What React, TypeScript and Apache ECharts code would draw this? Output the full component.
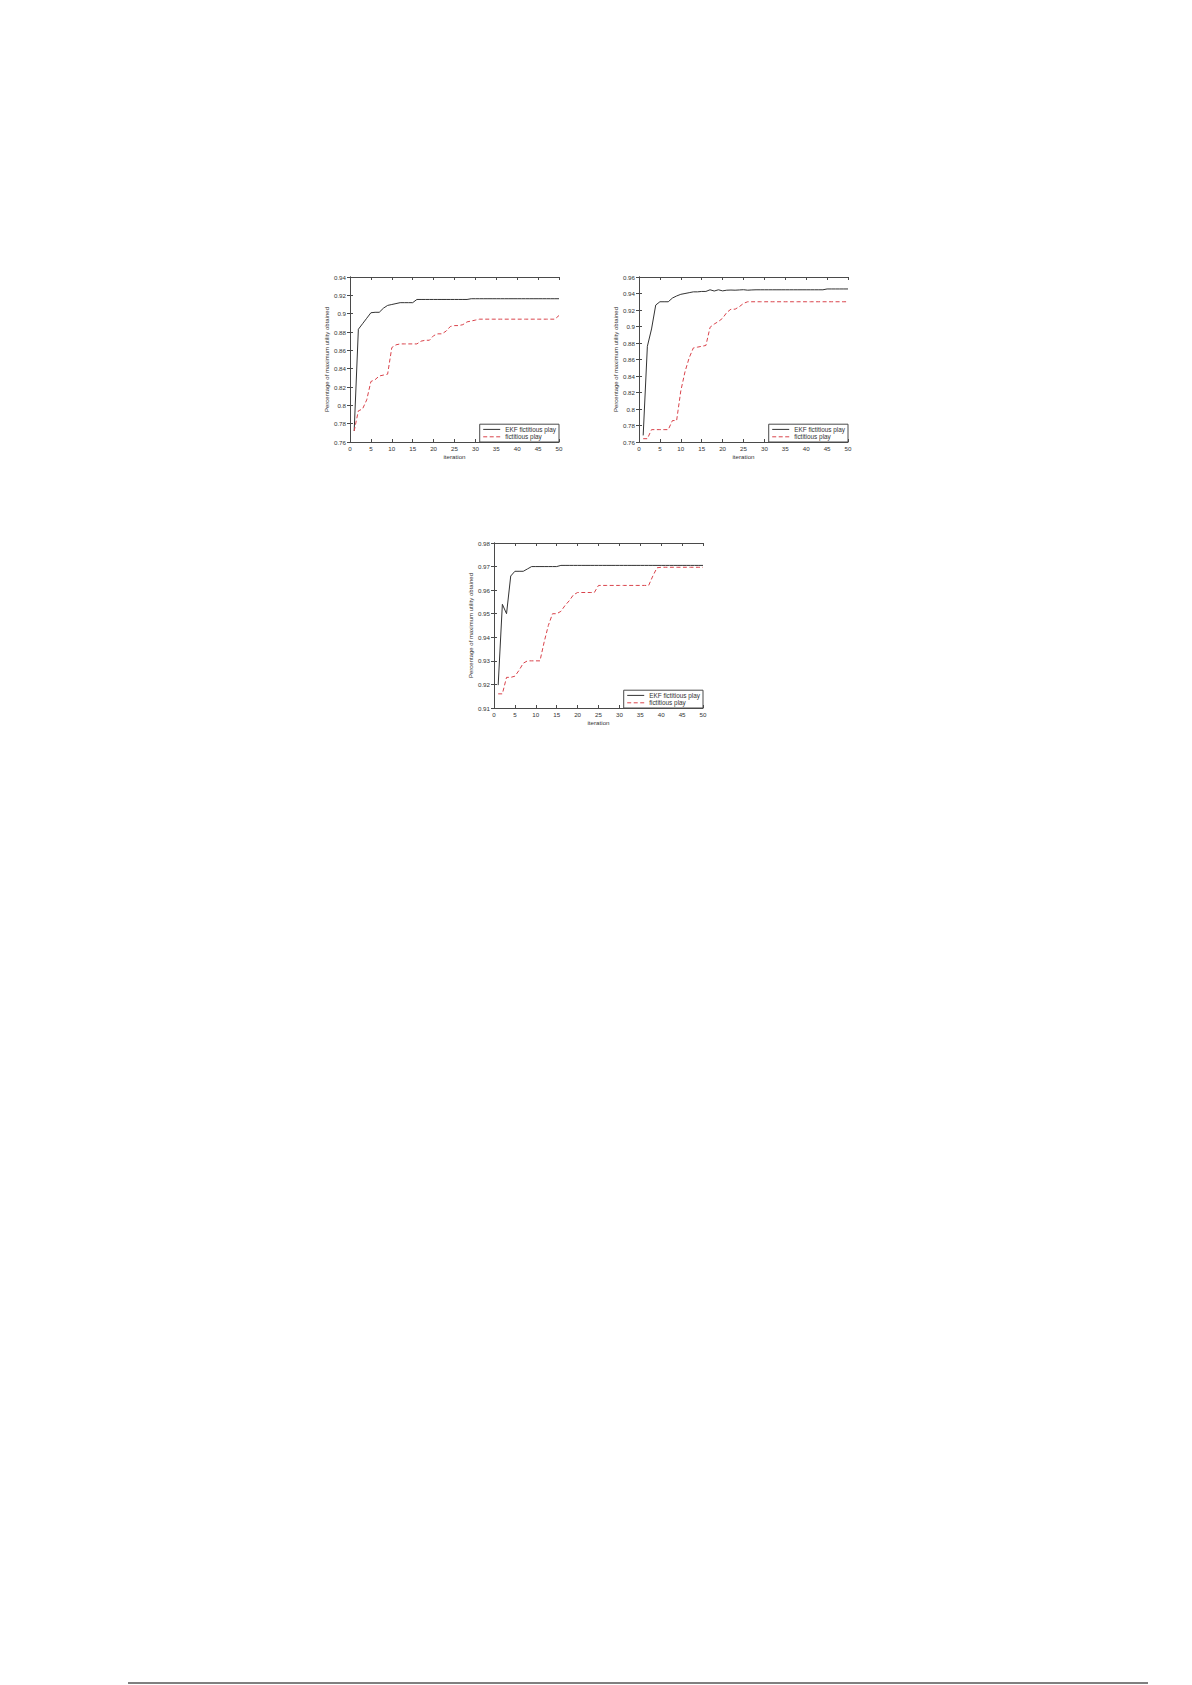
import { useEffect, useRef } from 'react';
import * as echarts from 'echarts';

// iteration numbers shared by every curve
const ITERATIONS = [
  1, 2, 3, 4, 5, 6, 7, 8, 9, 10, 11, 12, 13, 14, 15, 16, 17, 18, 19, 20, 21, 22, 23, 24, 25,
  26, 27, 28, 29, 30, 31, 32, 33, 34, 35, 36, 37, 38, 39, 40, 41, 42, 43, 44, 45, 46, 47, 48, 49, 50
];

const SERIES_NAMES = ['EKF fictitious play', 'fictitious play'];
const X_TICKS = [0, 50, 5];

// top left panel
const EKF_A = [
  0.772, 0.883, 0.889, 0.895, 0.901, 0.9015, 0.9015, 0.906, 0.909, 0.910,
  0.911, 0.912, 0.912, 0.912, 0.912, 0.9155, 0.9155, 0.9155, 0.9155, 0.9155,
  0.9155, 0.9155, 0.9155, 0.9155, 0.9155, 0.9155, 0.9155, 0.9155, 0.9163, 0.9163,
  0.9163, 0.9163, 0.9163, 0.9163, 0.9163, 0.9163, 0.9163, 0.9163, 0.9163, 0.9163,
  0.9163, 0.9163, 0.9163, 0.9163, 0.9163, 0.9163, 0.9163, 0.9163, 0.9163, 0.9163
];
const FP_A = [
  0.772, 0.794, 0.796, 0.806, 0.826, 0.828, 0.832, 0.833, 0.834, 0.863,
  0.866, 0.867, 0.867, 0.867, 0.867, 0.867, 0.870, 0.871, 0.871, 0.876,
  0.878, 0.878, 0.881, 0.886, 0.887, 0.887, 0.888, 0.891, 0.892, 0.893,
  0.894, 0.894, 0.894, 0.894, 0.894, 0.894, 0.894, 0.894, 0.894, 0.894,
  0.894, 0.894, 0.894, 0.894, 0.894, 0.894, 0.894, 0.894, 0.894, 0.898
];
const Y_TICKS_A = [0.76, 0.94, 0.02];

// top right panel
const EKF_B = [
  0.768, 0.876, 0.897, 0.926, 0.930, 0.930, 0.930, 0.9345, 0.937, 0.939,
  0.940, 0.941, 0.942, 0.942, 0.9425, 0.9425, 0.9445, 0.9430, 0.9445, 0.9432,
  0.9440, 0.9442, 0.9440, 0.9443, 0.9446, 0.9440, 0.9443, 0.9445, 0.9445, 0.9445,
  0.9445, 0.9445, 0.9445, 0.9445, 0.9445, 0.9445, 0.9445, 0.9445, 0.9445, 0.9445,
  0.9445, 0.9445, 0.9445, 0.9445, 0.9455, 0.9455, 0.9455, 0.9455, 0.9455, 0.9455
];
const FP_B = [
  0.764, 0.764, 0.775, 0.775, 0.775, 0.775, 0.775, 0.786, 0.786, 0.822,
  0.845, 0.862, 0.874, 0.875, 0.876, 0.877, 0.899, 0.903, 0.906, 0.910,
  0.917, 0.921, 0.921, 0.924, 0.928, 0.930, 0.930, 0.930, 0.930, 0.930,
  0.930, 0.930, 0.930, 0.930, 0.930, 0.930, 0.930, 0.930, 0.930, 0.930,
  0.930, 0.930, 0.930, 0.930, 0.930, 0.930, 0.930, 0.930, 0.930, 0.930
];
const Y_TICKS_B = [0.76, 0.96, 0.02];

// bottom panel
const EKF_C = [
  0.9197, 0.954, 0.950, 0.966, 0.968, 0.968, 0.968, 0.969, 0.970, 0.970,
  0.970, 0.970, 0.970, 0.970, 0.970, 0.9705, 0.9705, 0.9705, 0.9705, 0.9705,
  0.9705, 0.9705, 0.9705, 0.9705, 0.9705, 0.9705, 0.9705, 0.9705, 0.9705, 0.9705,
  0.9705, 0.9705, 0.9705, 0.9705, 0.9705, 0.9705, 0.9705, 0.9705, 0.9705, 0.9705,
  0.9705, 0.9705, 0.9705, 0.9705, 0.9705, 0.9705, 0.9705, 0.9705, 0.9705, 0.9705
];
const FP_C = [
  0.916, 0.916, 0.923, 0.923, 0.9235, 0.926, 0.929, 0.930, 0.930, 0.930,
  0.930, 0.938, 0.945, 0.950, 0.950, 0.951, 0.9535, 0.9555, 0.958, 0.959,
  0.959, 0.959, 0.959, 0.959, 0.962, 0.962, 0.962, 0.962, 0.962, 0.962,
  0.962, 0.962, 0.962, 0.962, 0.962, 0.962, 0.962, 0.966, 0.9695, 0.9697,
  0.9697, 0.9697, 0.9697, 0.9697, 0.9697, 0.9697, 0.9697, 0.9697, 0.9697, 0.9697
];
const Y_TICKS_C = [0.91, 0.98, 0.01];

const PAGE_W = 1192;
const PAGE_H = 1685;
const FONT = 'Liberation Sans, Arial, sans-serif';
const AXIS_COLOR = '#4a4a4a';
const EKF_COLOR = '#333333';
const FP_COLOR = '#d9434b';

const panels = [
  { left: 350, top: 277, ekf: EKF_A, fp: FP_A, y: Y_TICKS_A },
  { left: 639, top: 277, ekf: EKF_B, fp: FP_B, y: Y_TICKS_B },
  { left: 494, top: 543, ekf: EKF_C, fp: FP_C, y: Y_TICKS_C }
];
const PANEL_W = 209;
const PANEL_H = 165;

export default function App() {
  const chartRef = useRef<HTMLDivElement>(null);

  useEffect(() => {
    document.body.style.margin = '0';
    if (!chartRef.current) return;
    const chart = echarts.init(chartRef.current, null, { renderer: 'svg' });

    const line = { show: true, lineStyle: { color: AXIS_COLOR, width: 1 } };
    const tick = { show: true, inside: true, length: 3, lineStyle: { color: AXIS_COLOR } };

    const grid: any[] = [];
    const xAxis: any[] = [];
    const yAxis: any[] = [];
    const series: any[] = [];
    const legend: any[] = [];

    panels.forEach((p, g) => {
      grid.push({ left: p.left, top: p.top, width: PANEL_W, height: PANEL_H, show: false });

      const [xMin, xMax, xStep] = X_TICKS;
      const [yMin, yMax, yStep] = p.y;

      xAxis.push({
        type: 'value', gridIndex: g, position: 'bottom', min: xMin, max: xMax, interval: xStep,
        axisLine: line, axisTick: tick, splitLine: { show: false },
        axisLabel: { fontSize: 6.2, color: '#333', margin: 3, fontFamily: FONT },
        name: 'iteration', nameLocation: 'middle', nameGap: 11,
        nameTextStyle: { fontSize: 6.2, color: '#333', fontFamily: FONT }
      });
      xAxis.push({
        type: 'value', gridIndex: g, position: 'top', min: xMin, max: xMax, interval: xStep,
        axisLine: line, axisTick: tick, splitLine: { show: false }, axisLabel: { show: false }
      });
      yAxis.push({
        type: 'value', gridIndex: g, position: 'left', min: yMin, max: yMax, interval: yStep,
        axisLine: line, axisTick: tick, splitLine: { show: false },
        axisLabel: {
          fontSize: 6.2, color: '#333', margin: 4, fontFamily: FONT,
          formatter: (v: number) => String(parseFloat(v.toFixed(2)))
        },
        name: 'Percentage of maximum utility obtained', nameLocation: 'middle', nameGap: 17,
        nameTextStyle: { fontSize: 6, color: '#333', fontFamily: FONT }
      });
      yAxis.push({
        type: 'value', gridIndex: g, position: 'right', min: yMin, max: yMax, interval: yStep,
        axisLine: line, axisTick: tick, splitLine: { show: false }, axisLabel: { show: false }
      });

      series.push({
        name: SERIES_NAMES[0], type: 'line', xAxisIndex: 2 * g, yAxisIndex: 2 * g,
        data: ITERATIONS.map((it, i) => [it, p.ekf[i]]),
        symbol: 'none', lineStyle: { color: EKF_COLOR, width: 1 }, itemStyle: { color: EKF_COLOR }
      });
      series.push({
        name: SERIES_NAMES[1], type: 'line', xAxisIndex: 2 * g, yAxisIndex: 2 * g,
        data: ITERATIONS.map((it, i) => [it, p.fp[i]]),
        symbol: 'none', lineStyle: { color: FP_COLOR, width: 1, type: [4, 2.5] }, itemStyle: { color: FP_COLOR }
      });

      legend.push({
        data: SERIES_NAMES,
        orient: 'vertical',
        right: PAGE_W - (p.left + PANEL_W),
        bottom: PAGE_H - (p.top + PANEL_H),
        itemWidth: 17,
        itemHeight: 8,
        itemGap: 1,
        padding: [2, 3, 2, 3],
        borderColor: AXIS_COLOR,
        borderWidth: 1,
        borderRadius: 0,
        backgroundColor: '#ffffff',
        selectedMode: false,
        itemStyle: { opacity: 0 },
        lineStyle: { width: 1 },
        textStyle: { fontSize: 6.4, color: '#333', fontFamily: FONT }
      });
    });

    chart.setOption({
      animation: false,
      textStyle: { fontFamily: FONT },
      grid,
      xAxis,
      yAxis,
      series,
      legend,
      graphic: [
        {
          type: 'line',
          shape: { x1: 128, y1: 1683, x2: 1148, y2: 1683 },
          style: { stroke: '#000000', lineWidth: 1 }
        }
      ]
    });

    return () => {
      chart.dispose();
    };
  }, []);

  return <div ref={chartRef} style={{ width: `${PAGE_W}px`, height: `${PAGE_H}px` }} />;
}
